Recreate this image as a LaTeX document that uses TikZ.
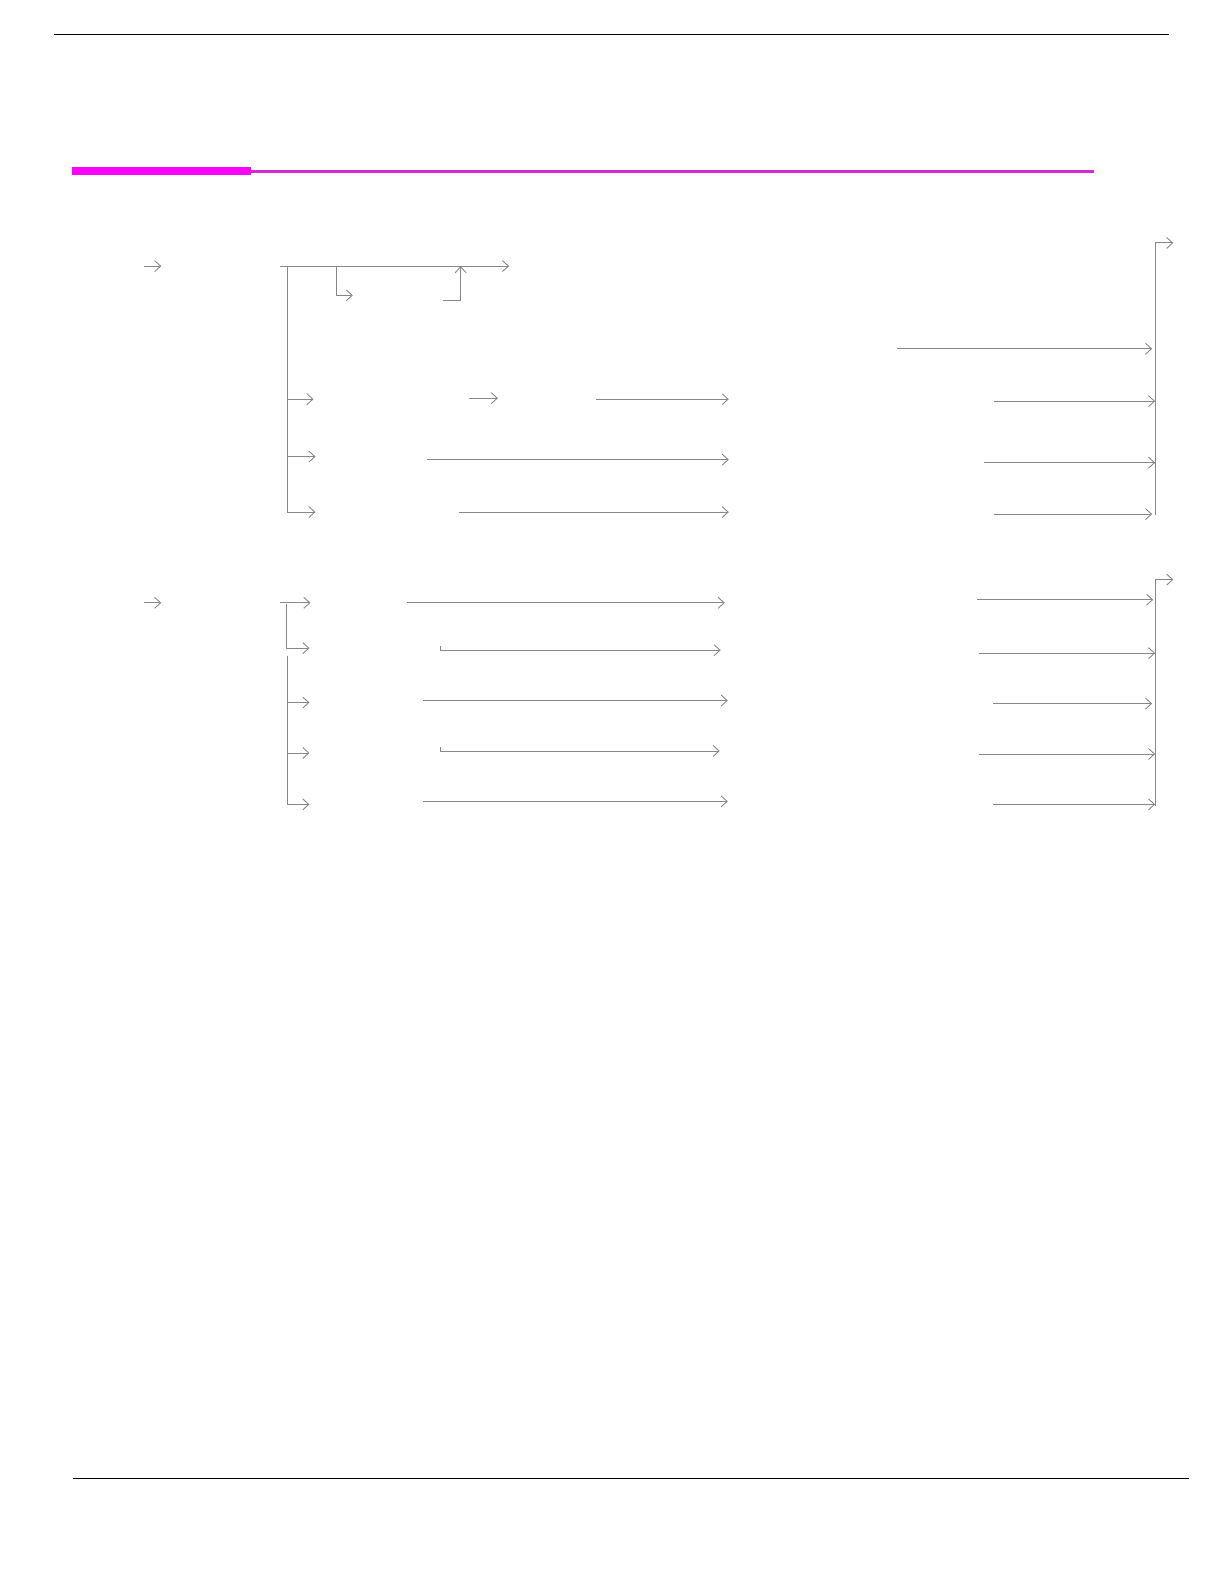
\documentclass[tikz,border=0pt]{standalone}
\usetikzlibrary{arrows.meta,positioning}
\definecolor{linegray}{HTML}{888888}
\definecolor{barmag}{HTML}{FF00FF}
\definecolor{thinmag}{HTML}{D22CD2}
\tikzset{
  trunk/.style = {draw=linegray, line width=0.9pt},
  flow/.style  = {trunk, -{Straight Barb[length=6pt,width=11pt,line width=0.9pt]}},
  rule/.style  = {draw=black, line width=1.2pt},
}
\begin{document}
\begin{tikzpicture}[x=1.008pt,y=-1.008pt]
\useasboundingbox (0pt,0pt) rectangle (1224pt,-1582pt);

% page rules and the magenta title bar
\coordinate (top l) at (54,34);   \coordinate (top r) at (1160,34);
\coordinate (bot l) at (72,1467); \coordinate (bot r) at (1180,1467);
\coordinate (bar l) at (71,170);  \coordinate (bar m) at (249,170);
\coordinate (bar r) at (1085,170);
\draw[rule] (top l) -- (top r);
\draw[draw=black, line width=0.9pt] (bot l) -- (bot r);
\draw[draw=barmag, line width=8pt] (bar l) -- (bar m);
\draw[draw=thinmag, line width=2.4pt] (bar m) -- (bar r);

% first block
\coordinate (in1) at (143,264); \coordinate (in1e) at (160,264);
\coordinate (s1) at (278,264);  \coordinate (s1e) at (505,264);
\coordinate (t1) at (285,265);  \coordinate (t1b) at (285,508);
\draw[flow] (in1) -- (in1e);
\draw[flow] (s1) -- (s1e);
\draw[trunk] (t1) -- (t1b);
\coordinate (ba) at (334,264); \coordinate (ba1) at (334,293); \coordinate (ba2) at (350,293);
\draw[flow] (ba) -- (ba1) -- (ba2);
\coordinate (bb) at (439,298); \coordinate (bb1) at (457,298); \coordinate (bb2) at (457,264);
\draw[flow] (bb) -- (bb1) -- (bb2);
\foreach \y/\xe [count=\i] in {396/311,453/313,508/313} {
  \coordinate (t1\i) at (285,\y);
  \coordinate (t1\i e) at (\xe,\y);
  \draw[flow] (t1\i) -- (t1\i e);
}
\coordinate (sm1) at (465,395); \coordinate (sm1e) at (494,395);
\draw[flow] (sm1) -- (sm1e);
\foreach \xa/\y/\xe [count=\i] in {591/396/723,424/456/723,455/508/723} {
  \coordinate (m1\i) at (\xa,\y);
  \coordinate (m1\i e) at (\xe,\y);
  \draw[flow] (m1\i) -- (m1\i e);
}
\foreach \xa/\y/\xe [count=\i] in {890/346/1143,986/398/1146,976/459/1146,986/510/1143} {
  \coordinate (r1\i) at (\xa,\y);
  \coordinate (r1\i e) at (\xe,\y);
  \draw[flow] (r1\i) -- (r1\i e);
}
\coordinate (r1b) at (1146,511); \coordinate (r1t) at (1146,241); \coordinate (r1o) at (1164,241);
\draw[flow] (r1b) -- (r1t) -- (r1o);

% second block
\coordinate (in2) at (143,598); \coordinate (in2e) at (160,598);
\coordinate (s2) at (278,598);  \coordinate (s2e) at (308,598);
\draw[flow] (in2) -- (in2e);
\draw[flow] (s2) -- (s2e);
\coordinate (t2) at (284,599); \coordinate (t2a) at (284,643); \coordinate (t2ae) at (307,643);
\draw[flow] (t2) -- (t2a) -- (t2ae);
\coordinate (u2) at (285,651); \coordinate (u2b) at (285,798);
\draw[trunk] (u2) -- (u2b);
\foreach \y [count=\i] in {697,747,798} {
  \coordinate (u2\i) at (285,\y);
  \coordinate (u2\i e) at (307,\y);
  \draw[flow] (u2\i) -- (u2\i e);
}
\foreach \xa/\y/\xe [count=\i] in {404/598/719,420/695/722,420/795/722} {
  \coordinate (m2\i) at (\xa,\y);
  \coordinate (m2\i e) at (\xe,\y);
  \draw[flow] (m2\i) -- (m2\i e);
}
% the two hooked ones
\foreach \y/\xe [count=\i] in {645/715,745/714} {
  \coordinate (h2\i) at (437,\y-4);
  \coordinate (h2\i k) at (437,\y);
  \coordinate (h2\i e) at (\xe,\y);
  \draw[flow] (h2\i) -- (h2\i k) -- (h2\i e);
}
\foreach \xa/\y/\xe [count=\i] in {969/595/1144,971/648/1146,985/698/1143,971/748/1146,985/798/1146} {
  \coordinate (r2\i) at (\xa,\y);
  \coordinate (r2\i e) at (\xe,\y);
  \draw[flow] (r2\i) -- (r2\i e);
}
\coordinate (r2b) at (1146,800); \coordinate (r2t) at (1146,575); \coordinate (r2o) at (1164,575);
\draw[flow] (r2b) -- (r2t) -- (r2o);
\end{tikzpicture}
\end{document}
